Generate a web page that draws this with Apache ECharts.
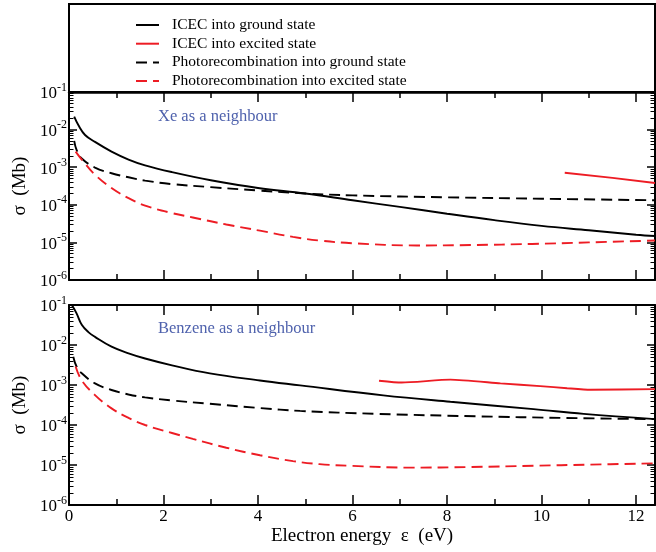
<!DOCTYPE html>
<html><head><meta charset="utf-8">
<script src="https://cdn.jsdelivr.net/npm/echarts@6/dist/echarts.min.js"></script>
<style>html,body{margin:0;padding:0;background:#fff}#c{width:656px;height:552px}</style>
</head><body><div id="c"></div>
<script>
// ---- Data ----
const seriesNames = ['ICEC into ground state', 'ICEC into excited state',
  'Photorecombination into ground state', 'Photorecombination into excited state'];
const panelLabels = ['Xe as a neighbour', 'Benzene as a neighbour'];
const xTickValues = [0, 2, 4, 6, 8, 10, 12];
const xMinorValues = [1, 3, 5, 7, 9, 11];

// Panel 1: Xe
const xeIcecGroundE = [0.11, 0.2, 0.34, 0.55, 0.9, 1.26, 1.61, 2.18, 3.0, 4.0, 5.0, 6, 7, 8, 9, 10, 11, 12, 12.4];
const xeIcecGroundV = [2.2e-2, 1.3e-2, 7.2e-3, 4.7e-3, 2.6e-3, 1.6e-3, 1.12e-3, 7.4e-4, 4.5e-4, 2.8e-4, 2.0e-4, 1.32e-4, 8.8e-5, 5.8e-5, 3.9e-5, 2.75e-5, 2.1e-5, 1.6e-5, 1.48e-5];
const xeIcecExcitedE = [10.49, 11.5, 12.4];
const xeIcecExcitedV = [7.1e-4, 5.2e-4, 3.8e-4];
const xePhotoGroundE = [0.11, 0.16, 0.27, 0.55, 0.9, 1.26, 1.61, 2.18, 3.0, 4.0, 5.0, 6, 8, 10, 12.4];
const xePhotoGroundV = [5.0e-3, 2.9e-3, 1.7e-3, 9.8e-4, 6.9e-4, 5.4e-4, 4.4e-4, 3.55e-4, 2.95e-4, 2.4e-4, 2.0e-4, 1.78e-4, 1.58e-4, 1.45e-4, 1.32e-4];
const xePhotoExcitedE = [0.14, 0.27, 0.55, 0.9, 1.26, 1.61, 2.18, 2.62, 3.33, 4.04, 4.74, 5.3, 6.0, 7.36, 8.5, 9.8, 11, 12.4];
const xePhotoExcitedV = [2.6e-3, 1.6e-3, 6.3e-4, 2.8e-4, 1.5e-4, 9.5e-5, 6.0e-5, 4.6e-5, 3.0e-5, 2.05e-5, 1.4e-5, 1.12e-5, 9.5e-6, 8.3e-6, 8.5e-6, 9.1e-6, 1.0e-5, 1.12e-5];

// Panel 2: Benzene
const bzIcecGroundE = [0.06, 0.16, 0.27, 0.41, 0.55, 0.9, 1.26, 1.61, 2.18, 2.98, 4.04, 4.89, 6.65, 8.07, 9.83, 10.89, 12.4];
const bzIcecGroundV = [1.0e-1, 6.2e-2, 3.2e-2, 2.1e-2, 1.6e-2, 9.1e-3, 6.2e-3, 4.6e-3, 3.1e-3, 1.95e-3, 1.3e-3, 9.8e-4, 5.5e-4, 3.8e-4, 2.5e-4, 1.9e-4, 1.4e-4];
const bzIcecExcitedE = [6.56, 7.04, 8.07, 9.13, 9.97, 10.54, 11.03, 12.4];
const bzIcecExcitedV = [1.28e-3, 1.15e-3, 1.36e-3, 1.1e-3, 9.4e-4, 8.3e-4, 7.6e-4, 7.9e-4];
const bzPhotoGroundE = [0.09, 0.16, 0.27, 0.55, 0.9, 1.26, 1.61, 2.18, 2.98, 4.04, 4.89, 6.5, 8.6, 10.5, 12.4];
const bzPhotoGroundV = [5.1e-3, 2.9e-3, 1.96e-3, 1.1e-3, 7.5e-4, 5.8e-4, 4.9e-4, 4.1e-4, 3.4e-4, 2.65e-4, 2.25e-4, 1.9e-4, 1.65e-4, 1.5e-4, 1.4e-4];
const bzPhotoExcitedE = [0.14, 0.27, 0.55, 0.9, 1.26, 1.61, 2.18, 2.62, 3.33, 4.04, 4.74, 5.3, 6.0, 7.22, 8.5, 9.83, 11, 12.4];
const bzPhotoExcitedV = [2.9e-3, 1.3e-3, 5.6e-4, 2.6e-4, 1.5e-4, 1.0e-4, 6.3e-5, 4.5e-5, 2.7e-5, 1.75e-5, 1.25e-5, 1.05e-5, 9.5e-6, 8.6e-6, 8.9e-6, 9.6e-6, 1.02e-5, 1.1e-5];

// ---- Chart ----
const FONT = 'Liberation Serif';
const RED = '#ed1c24';
const BLUE = '#4f62ad';
const DASH = [11, 6];
const pairs = (E, V) => E.map((e, i) => [e, V[i]]);

// minor tick positions for log axis (as exponents on a helper linear axis)
const yMinorExp = [];
for (let d = -6; d <= -2; d++) for (let k = 2; k <= 9; k++) yMinorExp.push(d + Math.log10(k));

function xAxes(g, showLabels, topWidth) {
  const base = {gridIndex: g, type: 'value', min: 0, max: 12.4, splitLine: {show: false}};
  const mk = (pos, major, lw) => Object.assign({}, base, {
    position: pos,
    axisLine: {show: major, onZero: false, lineStyle: {color: '#000', width: lw}},
    axisTick: {show: true, inside: true, length: major ? 10 : 6, customValues: major ? xTickValues : xMinorValues, lineStyle: {color: '#000', width: 1.5}},
    axisLabel: (major && pos === 'bottom' && showLabels) ?
      {show: true, customValues: xTickValues, fontSize: 17, fontFamily: FONT, color: '#000', margin: 3} : {show: false},
    name: (major && pos === 'bottom' && showLabels) ? 'Electron energy  \u03b5  (eV)' : '',
    nameLocation: 'middle', nameGap: 22,
    nameTextStyle: {fontSize: 19, fontFamily: FONT, color: '#000'}
  });
  return [mk('bottom', true, 2), mk('bottom', false, 2), mk('top', true, topWidth), mk('top', false, 2)];
}
function yAxes(g) {
  const mkMajor = (pos) => ({
    gridIndex: g, type: 'log', logBase: 10, min: 1e-6, max: 1e-1, splitLine: {show: false}, minorTick: {show: false},
    position: pos,
    axisLine: {show: true, onZero: false, lineStyle: {color: '#000', width: 2}},
    axisTick: {show: true, inside: true, length: 8, lineStyle: {color: '#000', width: 1.5}},
    axisLabel: pos === 'left' ? {
      show: true, margin: 2, color: '#000',
      formatter: v => '{b|10}{s|' + Math.round(Math.log10(v)) + '}',
      rich: {
        b: {fontSize: 17, fontFamily: FONT, color: '#000', verticalAlign: 'bottom', lineHeight: 21},
        s: {fontSize: 12, fontFamily: FONT, color: '#000', verticalAlign: 'top'}
      }
    } : {show: false},
    name: pos === 'left' ? '\u03c3  (Mb)' : '',
    nameLocation: 'middle', nameGap: 37,
    nameTextStyle: {fontSize: 19, fontFamily: FONT, color: '#000'}
  });
  const mkMinor = (pos) => ({
    gridIndex: g, type: 'value', min: -6, max: -1, position: pos, splitLine: {show: false},
    axisLine: {show: false, onZero: false},
    axisTick: {show: true, inside: true, length: 4.5, customValues: yMinorExp, lineStyle: {color: '#000', width: 1}},
    axisLabel: {show: false}
  });
  return [mkMajor('left'), mkMinor('left'), mkMajor('right'), mkMinor('right')];
}

function line(name, g, E, V, color, dashed, smooth) {
  return {
    type: 'line', name, xAxisIndex: g * 4, yAxisIndex: g * 4, data: pairs(E, V),
    symbol: 'none', showSymbol: false, smooth: smooth, color: color,
    lineStyle: {color, width: 1.9, type: dashed ? DASH : 'solid'},
    itemStyle: {color}, silent: true
  };
}

const option = {
  animation: false,
  backgroundColor: '#fff',
  grid: [
    {left: 69, top: 92, width: 586, height: 188},
    {left: 69, top: 305, width: 586, height: 200}
  ],
  graphic: [{type: 'rect', shape: {x: 69, y: 4, width: 586, height: 88}, style: {fill: 'none', stroke: '#000', lineWidth: 2}, silent: true}],
  title: [
    {text: panelLabels[0], left: 158, top: 108, padding: 0, textStyle: {fontSize: 16.5, fontFamily: FONT, fontWeight: 'normal', color: BLUE}},
    {text: panelLabels[1], left: 158, top: 320, padding: 0, textStyle: {fontSize: 16.5, fontFamily: FONT, fontWeight: 'normal', color: BLUE}}
  ],
  legend: {
    data: seriesNames, orient: 'vertical', left: 135, top: 17, padding: 0,
    itemWidth: 23, itemHeight: 14, itemGap: 2.7, selectedMode: false,
    itemStyle: {opacity: 0},
    textStyle: {fontFamily: FONT, fontSize: 15.5, lineHeight: 14, color: '#000', padding: [0, 0, 0, 8]}
  },
  xAxis: xAxes(0, false, 2.5).concat(xAxes(1, true, 2)),
  yAxis: yAxes(0).concat(yAxes(1)),
  series: [
    line(seriesNames[0], 0, xeIcecGroundE, xeIcecGroundV, '#000', false, 0.4),
    line(seriesNames[1], 0, xeIcecExcitedE, xeIcecExcitedV, RED, false, 0),
    line(seriesNames[2], 0, xePhotoGroundE, xePhotoGroundV, '#000', true, 0.4),
    line(seriesNames[3], 0, xePhotoExcitedE, xePhotoExcitedV, RED, true, 0.4),
    line(seriesNames[0], 1, bzIcecGroundE, bzIcecGroundV, '#000', false, 0.4),
    line(seriesNames[1], 1, bzIcecExcitedE, bzIcecExcitedV, RED, false, 0.2),
    line(seriesNames[2], 1, bzPhotoGroundE, bzPhotoGroundV, '#000', true, 0.4),
    line(seriesNames[3], 1, bzPhotoExcitedE, bzPhotoExcitedV, RED, true, 0.4)
  ]
};
const chart = echarts.init(document.getElementById('c'), null, {renderer: 'canvas'});
chart.setOption(option);
</script>
</body></html>
